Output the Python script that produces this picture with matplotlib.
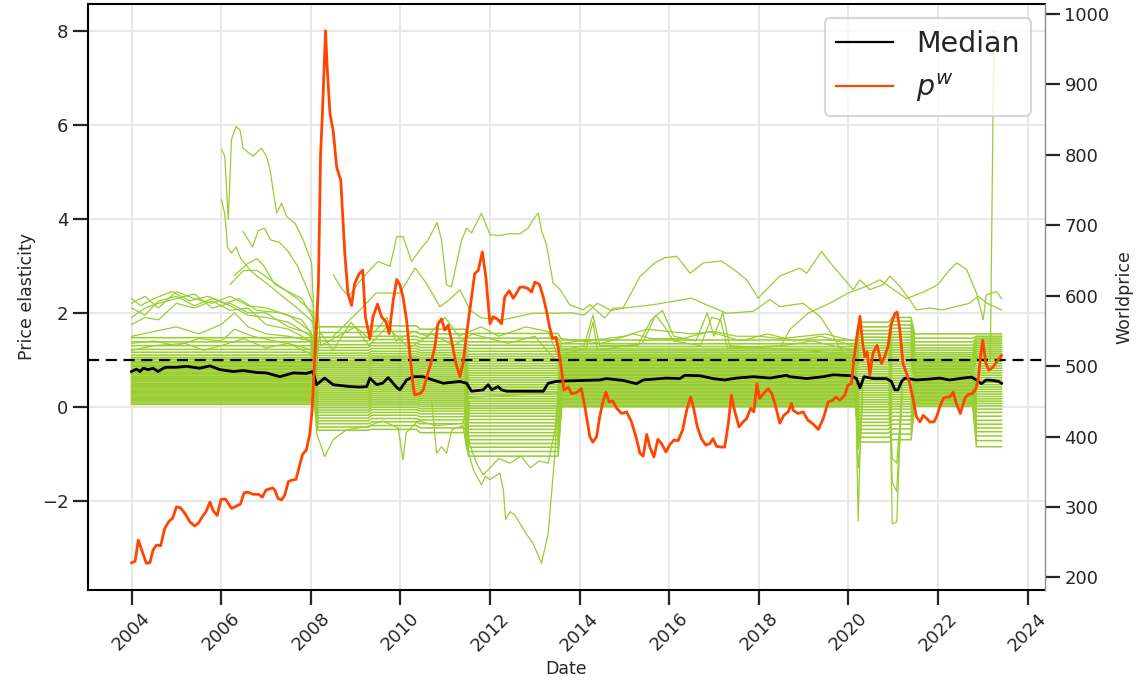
import matplotlib
matplotlib.use("Agg")
import matplotlib.pyplot as plt
from matplotlib.lines import Line2D

GREEN = "#9acd32"
ORANGE = "#ff4500"
TEXT = "#262626"

# ---------------------------------------------------------------------------
# World price p^w (right axis), (decimal year, value)
pw_dates = [
    2004.0, 2004.08, 2004.15, 2004.33, 2004.41, 2004.48, 2004.56, 2004.65, 2004.74, 2004.84,
    2004.92, 2005.0, 2005.09, 2005.19, 2005.30, 2005.41, 2005.49, 2005.60, 2005.66, 2005.75,
    2005.82, 2005.91, 2006.0, 2006.1, 2006.23, 2006.38, 2006.43, 2006.51, 2006.6, 2006.71,
    2006.83, 2006.92, 2007.0, 2007.15, 2007.2, 2007.27, 2007.35, 2007.42, 2007.5, 2007.57,
    2007.67, 2007.76, 2007.82, 2007.9, 2007.98, 2008.03, 2008.08, 2008.17, 2008.22, 2008.26,
    2008.33, 2008.37, 2008.43, 2008.5, 2008.58, 2008.67, 2008.76, 2008.83, 2008.91, 2008.98,
    2009.08, 2009.16, 2009.22, 2009.32, 2009.39, 2009.49, 2009.58, 2009.68, 2009.75, 2009.84,
    2009.92, 2009.99, 2010.06, 2010.14, 2010.21, 2010.29, 2010.32, 2010.44, 2010.51, 2010.61,
    2010.7, 2010.77, 2010.84, 2010.92, 2010.99, 2011.07, 2011.14, 2011.24, 2011.33, 2011.4,
    2011.48, 2011.57, 2011.66, 2011.74, 2011.83, 2011.91, 2012.0, 2012.07, 2012.16, 2012.26,
    2012.33, 2012.43, 2012.52, 2012.59, 2012.67, 2012.76, 2012.85, 2012.93, 2013.0, 2013.08,
    2013.11, 2013.19, 2013.26, 2013.33, 2013.40, 2013.47, 2013.52, 2013.6, 2013.65, 2013.75,
    2013.82, 2013.93, 2014.04, 2014.12, 2014.23, 2014.30, 2014.38, 2014.45, 2014.53, 2014.59,
    2014.66, 2014.74, 2014.83, 2014.94, 2015.05, 2015.16, 2015.27, 2015.35, 2015.42, 2015.5,
    2015.57, 2015.66, 2015.75, 2015.83, 2015.93, 2016.02, 2016.11, 2016.2, 2016.3, 2016.39,
    2016.48, 2016.54, 2016.63, 2016.72, 2016.82, 2016.91, 2016.98, 2017.06, 2017.17, 2017.24,
    2017.32, 2017.39, 2017.46, 2017.56, 2017.65, 2017.73, 2017.82, 2017.89, 2017.96, 2018.02,
    2018.11, 2018.21, 2018.29, 2018.36, 2018.47, 2018.56, 2018.66, 2018.73, 2018.77, 2018.88,
    2018.99, 2019.1, 2019.21, 2019.33, 2019.44, 2019.55, 2019.65, 2019.72, 2019.81, 2019.92,
    2019.99, 2020.07, 2020.12, 2020.18, 2020.26, 2020.32, 2020.37, 2020.42, 2020.48, 2020.55,
    2020.64, 2020.74, 2020.81, 2020.89, 2020.96, 2021.04, 2021.09, 2021.15, 2021.22, 2021.3,
    2021.37, 2021.45, 2021.52, 2021.6, 2021.67, 2021.75, 2021.82, 2021.91, 2021.97, 2022.04,
    2022.12, 2022.19, 2022.26, 2022.34, 2022.41, 2022.5, 2022.6, 2022.67, 2022.77, 2022.85,
    2022.9, 2022.95, 2023.0, 2023.07, 2023.14, 2023.23, 2023.31, 2023.42,
]
pw_values = [
    220.7, 223, 253, 220, 221, 239, 246, 245, 269.5, 280,
    284, 300, 299, 291, 279, 273, 277, 288, 293, 307,
    295, 288, 311, 311, 298, 302.5, 304, 320, 321, 318,
    318, 314, 324, 327, 324, 312, 310, 317, 336, 338,
    339, 361, 375, 380.5, 404, 437, 500, 612, 801, 858,
    976, 920, 858, 834, 782, 763.5, 660, 603, 586, 617,
    631, 636, 570, 539, 570, 588, 570, 562.5, 546, 593,
    623, 615, 598, 565, 518, 470, 459, 461, 466, 489,
    508, 527, 560, 567, 551, 558, 537, 504, 485, 504,
    546, 589, 631, 636, 662, 626, 560, 570, 567, 560,
    598, 607, 596, 603, 612, 612, 610, 605, 619, 617,
    615, 598, 579, 555.5, 539, 541, 527, 494, 466, 470,
    461, 462, 468, 442, 399.5, 392, 399.5, 428, 451.5, 463,
    449, 450.5, 440, 432.6, 435, 420.7, 397, 376, 372, 403,
    385, 371, 396, 390, 378, 389, 395, 394, 409, 437,
    456, 442, 413.6, 397, 387.7, 390, 397, 386, 385, 385,
    418, 458.6, 437, 413.6, 420.7, 425.5, 440, 435, 475, 454,
    461, 468, 461, 447, 419, 430, 435, 447, 437, 432.6,
    435, 423, 418, 410, 425.5, 449, 451.5, 456, 451.5, 458.6,
    472.8, 475, 508, 536.6, 570.6, 532, 513, 520, 487, 518,
    529.5, 503.6, 513, 529.5, 560, 574.5, 576.7, 551, 503.6, 489.4,
    475, 451.5, 428, 420.7, 430, 425.5, 420.7, 420.7, 428, 442,
    454, 456, 456, 463, 447, 432.6, 454, 459.6, 461, 468,
    482, 513, 536.6, 503.6, 494, 498.7, 505.8, 515,
]

# Median price elasticity (left axis)
median_dates = [
    2004.0, 2004.11, 2004.19, 2004.26, 2004.37, 2004.48, 2004.59, 2004.71, 2004.78, 2005.0,
    2005.23, 2005.52, 2005.75, 2005.97, 2006.27, 2006.49, 2006.79, 2007.01, 2007.31, 2007.46,
    2007.61, 2007.9, 2008.05, 2008.13, 2008.31, 2008.5, 2008.87, 2009.1, 2009.25, 2009.32,
    2009.47, 2009.6, 2009.73, 2009.92, 2009.99, 2010.14, 2010.29, 2010.51, 2010.73, 2010.96,
    2011.33, 2011.48, 2011.59, 2011.85, 2011.96, 2012.04, 2012.18, 2012.26, 2012.37, 2012.96,
    2013.19, 2013.3, 2013.49, 2013.71, 2014.08, 2014.45, 2014.6, 2014.97, 2015.27, 2015.42,
    2015.94, 2016.24, 2016.35, 2016.69, 2016.98, 2017.24, 2017.5, 2017.88, 2018.25, 2018.62,
    2018.69, 2019.07, 2019.44, 2019.66, 2020.07, 2020.18, 2020.26, 2020.35, 2020.55, 2020.85,
    2020.96, 2021.04, 2021.11, 2021.19, 2021.26, 2021.52, 2021.82, 2022.04, 2022.26, 2022.56,
    2022.75, 2022.86, 2022.97, 2023.08, 2023.23, 2023.35, 2023.42,
]
median_values = [
    0.75, 0.80, 0.75, 0.82, 0.79, 0.82, 0.75, 0.82, 0.84, 0.84,
    0.86, 0.82, 0.87, 0.79, 0.75, 0.77, 0.73, 0.72, 0.64, 0.68,
    0.72, 0.71, 0.75, 0.47, 0.61, 0.47, 0.43, 0.42, 0.43, 0.61,
    0.47, 0.50, 0.62, 0.41, 0.36, 0.57, 0.64, 0.64, 0.57, 0.50,
    0.54, 0.50, 0.33, 0.36, 0.47, 0.36, 0.43, 0.36, 0.33, 0.33,
    0.33, 0.50, 0.54, 0.55, 0.56, 0.57, 0.60, 0.56, 0.49, 0.57,
    0.61, 0.60, 0.67, 0.66, 0.60, 0.57, 0.61, 0.64, 0.61, 0.67,
    0.64, 0.60, 0.64, 0.68, 0.66, 0.60, 0.40, 0.64, 0.60, 0.60,
    0.54, 0.36, 0.36, 0.54, 0.61, 0.57, 0.59, 0.61, 0.57, 0.61,
    0.63, 0.57, 0.49, 0.57, 0.56, 0.54, 0.50,
]

# ---------------------------------------------------------------------------
# Country elasticities: estimation regimes and the level of each series per regime
regime_bounds = [
    (2004.00, 2008.08), (2008.16, 2009.28), (2009.36, 2010.36), (2010.44, 2011.44),
    (2011.52, 2013.52), (2013.60, 2020.16), (2020.24, 2020.90), (2020.98, 2021.40),
    (2021.48, 2022.78), (2022.86, 2023.42),
]
lv_2004 = [0.05, 0.08, 0.10, 0.13, 0.15, 0.18, 0.20, 0.23, 0.25, 0.28,
           0.30, 0.33, 0.35, 0.38, 0.40, 0.43, 0.45, 0.48, 0.50, 0.53,
           0.55, 0.58, 0.60, 0.63, 0.65, 0.68, 0.70, 0.73, 0.76, 0.79,
           0.82, 0.85, 0.88, 0.91, 0.94, 0.97, 1.01, 1.05, 1.10, 1.16,
           1.22, 1.30, 1.38, 1.47]
lv_2008 = [-0.50, -0.43, -0.36, -0.30, -0.24, -0.18, -0.12, -0.07, -0.02, 0.03,
           0.07, 0.11, 0.15, 0.19, 0.23, 0.27, 0.31, 0.35, 0.39, 0.43,
           0.47, 0.51, 0.55, 0.59, 0.63, 0.67, 0.71, 0.75, 0.79, 0.83,
           0.87, 0.91, 0.95, 0.99, 1.04, 1.09, 1.14, 1.20, 1.26, 1.32,
           1.40, 1.48, 1.58, 1.70]
lv_2009 = [-0.48, -0.40, -0.32, -0.25, -0.18, -0.12, -0.06, -0.01, 0.04, 0.08,
           0.12, 0.16, 0.20, 0.24, 0.28, 0.32, 0.36, 0.40, 0.44, 0.48,
           0.52, 0.56, 0.60, 0.64, 0.68, 0.72, 0.76, 0.80, 0.84, 0.88,
           0.92, 0.96, 1.00, 1.04, 1.08, 1.13, 1.18, 1.24, 1.30, 1.36,
           1.43, 1.50, 1.60, 1.72]
lv_2010 = [-0.55, -0.45, -0.36, -0.28, -0.21, -0.15, -0.09, -0.04, 0.01, 0.05,
           0.09, 0.13, 0.17, 0.21, 0.25, 0.29, 0.33, 0.37, 0.41, 0.45,
           0.49, 0.53, 0.57, 0.61, 0.65, 0.69, 0.73, 0.77, 0.81, 0.85,
           0.89, 0.93, 0.97, 1.01, 1.05, 1.10, 1.15, 1.20, 1.26, 1.32,
           1.39, 1.46, 1.55, 1.65]
lv_2011 = [-1.05, -0.95, -0.86, -0.78, -0.70, -0.62, -0.55, -0.48, -0.41, -0.34,
           -0.27, -0.20, -0.14, -0.08, -0.03, 0.02, 0.07, 0.12, 0.17, 0.22,
           0.27, 0.32, 0.37, 0.42, 0.47, 0.52, 0.57, 0.62, 0.67, 0.72,
           0.77, 0.82, 0.87, 0.92, 0.97, 1.02, 1.07, 1.12, 1.18, 1.24,
           1.31, 1.38, 1.46, 1.56]
lv_2013 = [0.00, 0.03, 0.06, 0.09, 0.12, 0.15, 0.18, 0.21, 0.24, 0.27,
           0.30, 0.33, 0.36, 0.39, 0.42, 0.45, 0.48, 0.51, 0.54, 0.57,
           0.60, 0.63, 0.66, 0.69, 0.72, 0.75, 0.78, 0.81, 0.84, 0.87,
           0.90, 0.93, 0.96, 0.99, 1.02, 1.05, 1.08, 1.11, 1.15, 1.19,
           1.23, 1.28, 1.34, 1.42]
lv_2020 = [-0.75, -0.65, -0.56, -0.48, -0.40, -0.33, -0.26, -0.19, -0.12, -0.06,
           0.00, 0.05, 0.10, 0.15, 0.20, 0.25, 0.30, 0.35, 0.40, 0.45,
           0.50, 0.55, 0.60, 0.65, 0.70, 0.75, 0.80, 0.85, 0.90, 0.95,
           1.00, 1.05, 1.10, 1.15, 1.20, 1.25, 1.30, 1.36, 1.42, 1.48,
           1.55, 1.62, 1.70, 1.80]
lv_2021a = [-0.70, -0.58, -0.47, -0.37, -0.28, -0.20, -0.12, -0.05, 0.01, 0.06,
            0.11, 0.16, 0.21, 0.26, 0.31, 0.36, 0.41, 0.46, 0.51, 0.56,
            0.61, 0.66, 0.71, 0.76, 0.81, 0.86, 0.91, 0.96, 1.01, 1.06,
            1.11, 1.16, 1.21, 1.26, 1.31, 1.36, 1.42, 1.48, 1.54, 1.60,
            1.67, 1.74, 1.82, 1.90]
lv_2021b = [0.01, 0.04, 0.07, 0.10, 0.13, 0.16, 0.19, 0.22, 0.25, 0.28,
            0.31, 0.34, 0.37, 0.40, 0.43, 0.46, 0.49, 0.52, 0.55, 0.58,
            0.61, 0.64, 0.67, 0.70, 0.73, 0.76, 0.79, 0.82, 0.85, 0.88,
            0.91, 0.94, 0.97, 1.00, 1.03, 1.07, 1.11, 1.15, 1.20, 1.25,
            1.31, 1.38, 1.46, 1.55]
lv_2023 = [-0.85, -0.72, -0.62, -0.53, -0.45, -0.37, -0.29, -0.20, -0.12, -0.05,
           0.02, 0.07, 0.12, 0.17, 0.22, 0.27, 0.32, 0.37, 0.42, 0.47,
           0.52, 0.57, 0.62, 0.67, 0.72, 0.77, 0.82, 0.87, 0.92, 0.97,
           1.02, 1.06, 1.10, 1.14, 1.18, 1.22, 1.26, 1.30, 1.34, 1.38,
           1.42, 1.46, 1.50, 1.55]
regime_levels = [lv_2004, lv_2008, lv_2009, lv_2010, lv_2011,
                 lv_2013, lv_2020, lv_2021a, lv_2021b, lv_2023]

# Individual series that stand out from the bulk, (decimal year, elasticity)
high_2006_a = [(2006.01, 5.47), (2006.08, 5.33), (2006.16, 3.98), (2006.23, 5.68), (2006.33, 5.96),
               (2006.42, 5.89), (2006.49, 5.50), (2006.71, 5.33), (2006.90, 5.50), (2007.01, 5.33),
               (2007.09, 5.04), (2007.24, 4.12), (2007.35, 4.33), (2007.46, 4.05), (2007.65, 3.90),
               (2007.83, 3.55), (2008.02, 3.06), (2008.10, 1.30)]
high_2006_b = [(2006.01, 4.40), (2006.08, 4.10), (2006.12, 3.70), (2006.14, 3.40), (2006.23, 3.27),
               (2006.33, 3.40), (2006.45, 3.13), (2006.71, 2.85), (2007.10, 2.56), (2007.46, 2.28),
               (2007.70, 2.10), (2008.05, 1.80), (2008.10, 0.90)]
high_2006_c = [(2006.49, 3.73), (2006.70, 3.40), (2006.83, 3.75), (2006.97, 3.80), (2007.10, 3.55),
               (2007.30, 3.50), (2007.50, 3.30), (2007.70, 3.00), (2007.90, 2.56), (2008.05, 2.20),
               (2008.10, 1.00)]
high_2006_d = [(2006.30, 2.80), (2006.60, 3.05), (2006.80, 3.15), (2006.95, 3.00), (2007.20, 2.60),
               (2007.50, 2.45), (2007.80, 2.30), (2008.05, 1.90), (2008.10, 0.80)]
high_2006_e = [(2006.20, 2.60), (2006.50, 2.90), (2006.80, 2.90), (2007.10, 2.70), (2007.40, 2.50),
               (2007.70, 2.30), (2008.05, 2.00), (2008.10, 0.70)]
early_a = [(2004.0, 2.20), (2004.3, 2.35), (2004.6, 2.10), (2005.0, 2.45), (2005.4, 2.30), (2005.8, 2.20),
           (2006.2, 2.35), (2006.6, 2.15), (2007.0, 2.10), (2007.5, 1.95), (2008.0, 1.60), (2008.1, 0.90)]
early_b = [(2004.0, 2.10), (2004.3, 1.95), (2004.6, 2.25), (2005.0, 2.35), (2005.4, 2.15), (2005.8, 2.30),
           (2006.2, 2.15), (2006.6, 1.95), (2007.0, 1.90), (2007.5, 1.80), (2008.0, 1.50), (2008.1, 0.70)]
early_c = [(2004.0, 1.90), (2004.3, 2.10), (2004.6, 2.20), (2005.0, 2.30), (2005.4, 2.40), (2005.8, 2.10),
           (2006.2, 2.20), (2006.6, 2.00), (2007.0, 2.00), (2007.5, 1.70), (2008.0, 1.55), (2008.1, 1.10)]
early_d = [(2004.0, 1.75), (2004.3, 1.90), (2004.6, 1.85), (2005.0, 2.20), (2005.4, 2.10), (2005.8, 2.25),
           (2006.2, 2.05), (2006.6, 2.10), (2007.0, 1.75), (2007.5, 1.65), (2008.0, 1.40), (2008.1, 0.60)]
early_e = [(2004.0, 1.50), (2004.5, 1.60), (2005.0, 1.70), (2005.5, 1.55), (2006.0, 1.75), (2006.3, 2.00),
           (2006.6, 1.70), (2007.0, 1.55), (2007.5, 1.50), (2008.0, 1.40), (2008.1, 0.50)]
early_f = [(2004.0, 1.35), (2004.5, 1.40), (2005.0, 1.30), (2005.5, 1.45), (2006.0, 1.40), (2006.3, 1.65),
           (2006.7, 1.50), (2007.2, 1.40), (2007.7, 1.30), (2008.05, 1.20)]
early_g = [(2004.0, 1.20), (2004.5, 1.30), (2005.2, 1.35), (2005.6, 1.20), (2006.0, 1.30), (2006.5, 1.45),
           (2007.0, 1.25), (2007.5, 1.35), (2008.05, 1.10)]
early_h = [(2004.0, 2.30), (2004.2, 2.15), (2004.5, 2.30), (2004.9, 2.45), (2005.3, 2.25), (2005.7, 2.35),
           (2006.1, 2.20), (2006.4, 2.30), (2006.8, 2.05), (2007.3, 2.00), (2007.8, 1.85), (2008.05, 1.50),
           (2008.1, 1.00)]
upper_a = [(2008.50, 2.81), (2008.70, 2.50), (2008.85, 2.35), (2009.06, 2.63), (2009.25, 2.84),
           (2009.50, 3.09), (2009.77, 2.99), (2009.92, 3.62), (2010.06, 3.62), (2010.25, 3.09),
           (2010.44, 3.34), (2010.62, 3.55), (2010.82, 3.92), (2010.92, 3.55), (2011.03, 2.60),
           (2011.14, 2.55), (2011.37, 3.55), (2011.48, 3.80), (2011.59, 3.70), (2011.81, 4.12),
           (2012.00, 3.66), (2012.22, 3.64), (2012.41, 3.68), (2012.67, 3.68), (2012.85, 3.80),
           (2012.96, 3.98), (2013.08, 4.12), (2013.15, 3.75), (2013.26, 3.45), (2013.41, 2.63),
           (2013.56, 2.50), (2013.78, 2.17), (2014.08, 2.06), (2014.23, 2.17), (2014.56, 1.89),
           (2014.75, 2.10), (2014.97, 2.10), (2015.35, 2.77), (2015.68, 3.06), (2015.90, 3.17),
           (2016.17, 3.20), (2016.47, 2.84), (2016.76, 3.06), (2017.17, 3.10), (2017.50, 2.88),
           (2017.73, 2.70), (2017.99, 2.31), (2018.17, 2.49), (2018.47, 2.78), (2018.92, 2.95),
           (2019.07, 2.84), (2019.40, 3.30), (2019.66, 2.99), (2020.11, 2.49), (2020.26, 2.70),
           (2020.48, 2.49), (2020.78, 2.60), (2020.93, 2.78), (2021.15, 2.56), (2021.37, 2.28),
           (2021.52, 2.06), (2021.82, 2.10), (2022.10, 2.06), (2022.40, 2.13), (2022.70, 2.20),
           (2022.90, 2.35), (2023.10, 2.20), (2023.42, 2.06)]
upper_b = [(2008.50, 1.50), (2009.10, 2.06), (2009.46, 2.42), (2009.99, 2.42), (2010.33, 2.95),
           (2010.58, 2.63), (2010.88, 2.13), (2011.10, 2.28), (2011.33, 2.49), (2011.55, 2.06),
           (2011.81, 1.89), (2012.29, 1.85), (2012.96, 1.99), (2013.56, 1.99), (2013.80, 2.00),
           (2014.10, 1.95), (2014.40, 2.20), (2014.70, 2.05), (2015.00, 2.10), (2015.64, 2.17),
           (2016.50, 2.31), (2016.83, 2.17), (2017.28, 1.99), (2017.88, 2.03), (2018.25, 2.28),
           (2018.47, 2.13), (2018.99, 2.20), (2019.37, 1.92), (2019.66, 1.50), (2019.88, 1.14)]
upper_c = [(2018.50, 1.30), (2018.69, 1.64), (2019.10, 1.99), (2019.58, 2.20), (2020.00, 2.42),
           (2020.40, 2.56), (2020.70, 2.70), (2021.00, 2.50), (2021.30, 2.30), (2021.70, 2.45),
           (2022.00, 2.60), (2022.25, 2.90), (2022.42, 3.06), (2022.64, 2.92), (2022.86, 2.42),
           (2023.01, 1.85), (2023.08, 2.38), (2023.31, 2.45), (2023.42, 2.30)]
mid_a = [(2008.10, 0.80), (2008.15, 2.20), (2008.22, 1.30), (2008.60, 1.50), (2009.00, 1.70),
         (2009.30, 1.45), (2009.70, 1.90), (2009.90, 1.40), (2010.30, 1.60), (2010.60, 1.50),
         (2011.00, 1.90), (2011.30, 1.50), (2011.80, 1.70), (2012.20, 1.50), (2012.80, 1.70),
         (2013.30, 1.60), (2013.55, 1.00)]
mid_b = [(2008.10, 0.60), (2008.20, 1.60), (2008.50, 1.20), (2008.90, 1.80), (2009.30, 1.30),
         (2009.70, 1.70), (2010.20, 1.25), (2010.70, 1.55), (2011.20, 1.30), (2011.60, 1.55),
         (2012.40, 1.35), (2013.00, 1.50), (2013.55, 0.90)]
mid_c = [(2013.60, 1.20), (2014.10, 1.30), (2014.30, 1.95), (2014.45, 1.30), (2015.30, 1.30),
         (2015.60, 1.85), (2015.85, 2.05), (2016.10, 1.50), (2016.60, 1.40), (2016.85, 2.00),
         (2017.00, 1.50), (2017.20, 2.00), (2017.35, 1.30), (2019.00, 1.20), (2020.10, 1.10)]
mid_d = [(2013.60, 1.10), (2014.15, 1.25), (2014.30, 1.80), (2014.40, 1.20), (2015.40, 1.35),
         (2015.70, 1.95), (2015.90, 1.70), (2016.10, 1.40), (2016.70, 1.30), (2016.95, 1.90),
         (2017.15, 1.85), (2017.30, 1.25), (2018.50, 1.30), (2019.20, 1.40), (2020.10, 1.20)]
mid_e = [(2013.60, 1.35), (2014.00, 1.40), (2014.60, 1.45), (2015.00, 1.50), (2015.50, 1.65),
         (2016.00, 1.60), (2016.50, 1.55), (2017.00, 1.60), (2017.50, 1.50), (2018.00, 1.50),
         (2018.50, 1.45), (2019.00, 1.50), (2019.50, 1.55), (2020.10, 1.40)]
mid_f = [(2013.60, 1.45), (2014.50, 1.35), (2015.20, 1.55), (2015.60, 1.45), (2016.30, 1.45),
         (2016.90, 1.60), (2017.60, 1.40), (2018.20, 1.55), (2018.80, 1.40), (2019.40, 1.50),
         (2020.10, 1.30)]
low_a = [(2008.08, 0.30), (2008.13, -0.56), (2008.31, -1.06), (2008.50, -0.70), (2008.80, -0.49),
         (2009.25, -0.42), (2009.60, -0.30), (2009.95, -0.45), (2010.06, -1.13), (2010.13, -0.55),
         (2010.40, -0.30), (2010.80, -0.40), (2011.40, -0.35), (2011.50, 0.20), (2013.50, 0.30)]
low_b = [(2011.45, 0.00), (2011.50, -0.90), (2011.63, -1.34), (2011.81, -1.66), (2011.90, -1.48),
         (2012.00, -1.55), (2012.22, -1.41), (2012.30, -1.77), (2012.35, -2.40), (2012.45, -2.23),
         (2012.55, -2.30), (2012.67, -2.48), (2012.80, -2.69), (2012.96, -2.90), (2013.15, -3.33),
         (2013.30, -2.70), (2013.45, -1.00), (2013.52, 0.20)]
low_c = [(2011.45, 0.00), (2011.55, -0.80), (2011.70, -1.20), (2011.85, -1.45), (2012.00, -1.30),
         (2012.20, -1.10), (2012.45, -1.20), (2012.70, -1.05), (2012.90, -1.30), (2013.10, -1.15),
         (2013.30, -1.20), (2013.45, -0.50), (2013.52, 0.30)]
low_d = [(2010.70, 0.10), (2010.81, -0.99), (2010.92, -0.85), (2011.03, -0.99), (2011.15, -0.49),
         (2011.40, -0.40), (2011.48, -0.91), (2011.55, 0.10)]
dip_2020_a = [(2020.16, 0.60), (2020.22, -2.43), (2020.26, -1.00), (2020.32, 0.40)]
dip_2020_b = [(2020.16, 0.40), (2020.22, -1.30), (2020.26, -0.90), (2020.32, 0.20)]
dip_2020_c = [(2020.16, 0.80), (2020.22, -0.90), (2020.26, -0.60), (2020.32, 0.50)]
dip_2021_a = [(2020.92, 0.50), (2020.98, -2.49), (2021.08, -2.45), (2021.14, -1.00), (2021.20, 0.40)]
dip_2021_b = [(2020.92, 0.30), (2020.98, -1.60), (2021.08, -1.80), (2021.14, -0.70), (2021.20, 0.20)]
dip_2021_c = [(2020.92, 0.60), (2020.98, -1.10), (2021.08, -1.20), (2021.14, -0.50), (2021.20, 0.50)]
jump_2023 = [(2022.86, 1.05), (2023.17, 1.00), (2023.25, 8.00)]

single_series = [high_2006_a, high_2006_b, high_2006_c, high_2006_d, high_2006_e,
                 early_a, early_b, early_c, early_d, early_e, early_f, early_g, early_h,
                 upper_a, upper_b, upper_c, mid_a, mid_b, mid_c, mid_d, mid_e, mid_f,
                 low_a, low_b, low_c, low_d, dip_2020_a, dip_2020_b, dip_2020_c,
                 dip_2021_a, dip_2021_b, dip_2021_c, jump_2023]

year_ticks = [2004, 2006, 2008, 2010, 2012, 2014, 2016, 2018, 2020, 2022, 2024]
elasticity_ticks = [-2, 0, 2, 4, 6, 8]
price_ticks = [200, 300, 400, 500, 600, 700, 800, 900, 1000]

# ---------------------------------------------------------------------------
plt.rcParams["font.family"] = ["DejaVu Sans"]

fig = plt.figure(figsize=(11.45, 6.91), dpi=100)
ax = fig.add_axes([0.0769, 0.1462, 0.8358, 0.8480])
ax2 = ax.twinx()

# bulk of the country series: one level per estimation regime
for i in range(len(lv_2004)):
    xs, ys = [], []
    for (start, end), levels in zip(regime_bounds, regime_levels):
        xs += [start, end]
        ys += [levels[i], levels[i]]
    ax.plot(xs, ys, color=GREEN, lw=1.15, zorder=2)

for series in single_series:
    xs = [p[0] for p in series]
    ys = [p[1] for p in series]
    ax.plot(xs, ys, color=GREEN, lw=0.9, zorder=2)

ax.plot(median_dates, median_values, color="black", lw=2.0, zorder=4)
ax.axhline(1.0, color="black", lw=1.6, ls=(0, (5, 3)), zorder=4)

ax2.plot(pw_dates, pw_values, color=ORANGE, lw=2.0, zorder=5)

# axes styling
ax.set_axisbelow(True)
ax.grid(True, color="#e6e6e6", lw=1.3)
ax.set_xticks(year_ticks)
ax.set_xticklabels([str(y) for y in year_ticks], rotation=45)
ax.set_yticks(elasticity_ticks)
ax.set_yticklabels(["\u2212" + str(-t) if t < 0 else str(t) for t in elasticity_ticks])
ax2.set_yticks(price_ticks)

for a in (ax, ax2):
    a.tick_params(axis="both", length=10.5, width=1.6, labelsize=13, colors=TEXT, direction="out")
for side in ("left", "top", "bottom"):
    ax.spines[side].set_color("black")
    ax.spines[side].set_linewidth(1.5)
ax.spines["right"].set_visible(False)
for side in ("left", "top", "bottom"):
    ax2.spines[side].set_visible(False)
ax2.spines["right"].set_color("#8c8c8c")
ax2.spines["right"].set_linewidth(1.0)

ax.set_xlabel("Date", fontsize=12.5, color=TEXT)
ax.set_ylabel("Price elasticity", fontsize=12.5, color=TEXT)
ax2.set_ylabel("Worldprice", fontsize=12.5, color=TEXT)

handles = [Line2D([], [], color="black", lw=1.6), Line2D([], [], color=ORANGE, lw=1.6)]
leg = ax2.legend(handles, ["Median", r"$p^w$"], loc="upper right", fontsize=20.5,
                 framealpha=0.8, edgecolor="#cccccc", fancybox=True)
leg.get_frame().set_linewidth(1.5)
for t in leg.get_texts():
    t.set_color(TEXT)

fig.savefig("out.png", dpi=100)
